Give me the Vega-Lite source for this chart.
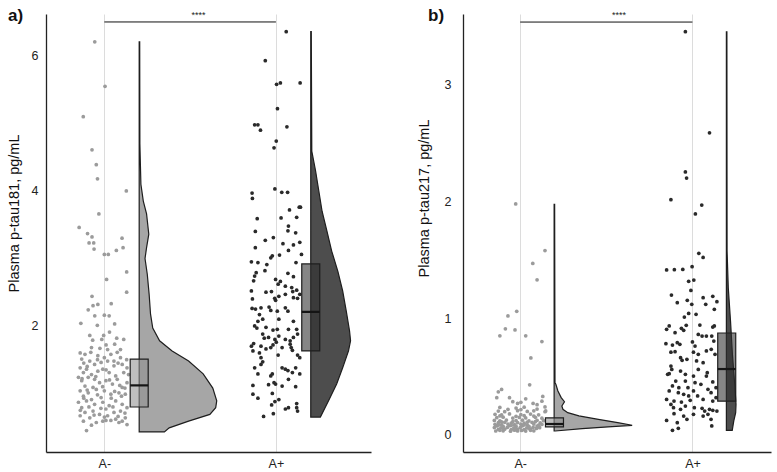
{
"$schema": "https://vega.github.io/schema/vega-lite/v6.json",
"padding": {"left": 6, "top": 6, "right": 4, "bottom": 2},
"config": {"font": "Liberation Sans", "view": {"stroke": null},
  "axisX": {"grid": true, "gridColor": "#dcdcdc", "ticks": false, "domainColor": "#222", "domainWidth": 1.3, "labelFontSize": 12.5, "labelColor": "#222", "labelPadding": 5},
  "axisY": {"grid": false, "ticks": false, "domainColor": "#222", "domainWidth": 1.3, "labelFontSize": 12.5, "labelColor": "#222", "titleFontSize": 14.5, "titleFontWeight": "normal", "titleColor": "#111", "format": "d"}
},
"spacing": 45,
"datasets": {
"pts": [
{"p":"a","g":"A-","x":0.944,"y":6.21},{"p":"a","g":"A-","x":1.004,"y":5.55},{"p":"a","g":"A-","x":0.877,"y":5.10},{"p":"a","g":"A-","x":0.928,"y":4.61},{"p":"a","g":"A-","x":0.953,"y":4.39},{"p":"a","g":"A-","x":0.960,"y":4.18},{"p":"a","g":"A-","x":1.128,"y":4.00},{"p":"a","g":"A-","x":0.968,"y":3.66},{"p":"a","g":"A-","x":0.853,"y":3.46},{"p":"a","g":"A-","x":0.902,"y":3.37},{"p":"a","g":"A-","x":0.928,"y":3.32},{"p":"a","g":"A-","x":0.911,"y":3.23},{"p":"a","g":"A-","x":0.938,"y":3.23},{"p":"a","g":"A-","x":0.940,"y":3.14},{"p":"a","g":"A-","x":1.103,"y":3.30},{"p":"a","g":"A-","x":1.109,"y":3.16},{"p":"a","g":"A-","x":1.070,"y":3.12},{"p":"a","g":"A-","x":1.000,"y":3.06},{"p":"a","g":"A-","x":1.023,"y":3.06},{"p":"a","g":"A-","x":1.130,"y":2.80},{"p":"a","g":"A-","x":1.013,"y":2.69},{"p":"a","g":"A-","x":1.130,"y":2.50},{"p":"a","g":"A-","x":0.928,"y":2.44},{"p":"a","g":"A-","x":0.962,"y":2.32},{"p":"a","g":"A-","x":0.934,"y":2.30},{"p":"a","g":"A-","x":0.906,"y":2.24},{"p":"a","g":"A-","x":1.040,"y":2.33},{"p":"a","g":"A-","x":1.000,"y":2.16},{"p":"a","g":"A-","x":1.028,"y":2.15},{"p":"a","g":"A-","x":0.944,"y":2.15},{"p":"a","g":"A-","x":0.863,"y":2.04},{"p":"a","g":"A-","x":0.959,"y":2.01},{"p":"a","g":"A-","x":1.060,"y":2.03},{"p":"a","g":"A-","x":0.915,"y":1.86},{"p":"a","g":"A-","x":0.996,"y":1.86},{"p":"a","g":"A-","x":1.030,"y":1.91},{"p":"a","g":"A-","x":0.932,"y":1.79},{"p":"a","g":"A-","x":0.985,"y":1.80},{"p":"a","g":"A-","x":1.072,"y":1.82},{"p":"a","g":"A-","x":1.113,"y":1.80},{"p":"a","g":"A-","x":1.010,"y":1.72},{"p":"a","g":"A-","x":0.974,"y":1.67},{"p":"a","g":"A-","x":1.019,"y":1.65},{"p":"a","g":"A-","x":1.060,"y":1.73},{"p":"a","g":"A-","x":0.925,"y":1.68},{"p":"a","g":"A-","x":1.094,"y":1.65},
{"p":"a","g":"A-","x":0.859,"y":1.60},{"p":"a","g":"A-","x":0.887,"y":1.58},{"p":"a","g":"A-","x":0.921,"y":1.61},{"p":"a","g":"A-","x":0.962,"y":1.56},{"p":"a","g":"A-","x":1.000,"y":1.53},{"p":"a","g":"A-","x":1.038,"y":1.58},{"p":"a","g":"A-","x":1.075,"y":1.61},{"p":"a","g":"A-","x":1.094,"y":1.53},{"p":"a","g":"A-","x":1.056,"y":1.48},
{"p":"a","g":"A-","x":0.868,"y":1.51},{"p":"a","g":"A-","x":0.915,"y":1.48},{"p":"a","g":"A-","x":0.943,"y":1.43},{"p":"a","g":"A-","x":0.981,"y":1.46},{"p":"a","g":"A-","x":1.019,"y":1.48},{"p":"a","g":"A-","x":1.056,"y":1.41},{"p":"a","g":"A-","x":1.104,"y":1.43},{"p":"a","g":"A-","x":1.132,"y":1.38},{"p":"a","g":"A-","x":0.859,"y":1.38},{"p":"a","g":"A-","x":0.896,"y":1.36},
{"p":"a","g":"A-","x":0.878,"y":1.31},{"p":"a","g":"A-","x":0.925,"y":1.28},{"p":"a","g":"A-","x":0.962,"y":1.33},{"p":"a","g":"A-","x":0.991,"y":1.36},{"p":"a","g":"A-","x":1.028,"y":1.31},{"p":"a","g":"A-","x":1.066,"y":1.26},{"p":"a","g":"A-","x":1.113,"y":1.31},{"p":"a","g":"A-","x":1.141,"y":1.28},{"p":"a","g":"A-","x":0.849,"y":1.24},{"p":"a","g":"A-","x":0.906,"y":1.24},
{"p":"a","g":"A-","x":0.868,"y":1.19},{"p":"a","g":"A-","x":0.943,"y":1.21},{"p":"a","g":"A-","x":0.972,"y":1.16},{"p":"a","g":"A-","x":1.009,"y":1.19},{"p":"a","g":"A-","x":1.047,"y":1.14},{"p":"a","g":"A-","x":1.075,"y":1.21},{"p":"a","g":"A-","x":1.104,"y":1.09},{"p":"a","g":"A-","x":1.132,"y":1.16},{"p":"a","g":"A-","x":0.887,"y":1.11},{"p":"a","g":"A-","x":0.934,"y":1.09},
{"p":"a","g":"A-","x":0.859,"y":1.04},{"p":"a","g":"A-","x":0.906,"y":1.01},{"p":"a","g":"A-","x":0.953,"y":1.06},{"p":"a","g":"A-","x":1.000,"y":1.04},{"p":"a","g":"A-","x":1.038,"y":0.99},{"p":"a","g":"A-","x":1.085,"y":1.01},{"p":"a","g":"A-","x":1.122,"y":0.99},{"p":"a","g":"A-","x":0.878,"y":0.96},{"p":"a","g":"A-","x":0.981,"y":0.94},{"p":"a","g":"A-","x":0.925,"y":0.91},
{"p":"a","g":"A-","x":0.849,"y":0.87},{"p":"a","g":"A-","x":0.896,"y":0.89},{"p":"a","g":"A-","x":0.943,"y":0.84},{"p":"a","g":"A-","x":0.991,"y":0.87},{"p":"a","g":"A-","x":1.028,"y":0.82},{"p":"a","g":"A-","x":1.066,"y":0.89},{"p":"a","g":"A-","x":1.104,"y":0.84},{"p":"a","g":"A-","x":1.132,"y":0.79},{"p":"a","g":"A-","x":0.868,"y":0.79},{"p":"a","g":"A-","x":1.009,"y":0.77},
{"p":"a","g":"A-","x":0.887,"y":0.72},{"p":"a","g":"A-","x":0.934,"y":0.74},{"p":"a","g":"A-","x":0.972,"y":0.69},{"p":"a","g":"A-","x":1.019,"y":0.67},{"p":"a","g":"A-","x":1.056,"y":0.72},{"p":"a","g":"A-","x":1.094,"y":0.74},{"p":"a","g":"A-","x":1.122,"y":0.64},{"p":"a","g":"A-","x":0.859,"y":0.67},{"p":"a","g":"A-","x":0.915,"y":0.64},{"p":"a","g":"A-","x":1.066,"y":0.62},
{"p":"a","g":"A-","x":0.878,"y":0.59},{"p":"a","g":"A-","x":0.953,"y":0.57},{"p":"a","g":"A-","x":0.991,"y":0.59},{"p":"a","g":"A-","x":1.038,"y":0.60},{"p":"a","g":"A-","x":1.085,"y":0.57},{"p":"a","g":"A-","x":1.132,"y":0.54},{"p":"a","g":"A-","x":0.925,"y":0.53},{"p":"a","g":"A-","x":1.009,"y":0.60},{"p":"a","g":"A-","x":1.104,"y":0.59},{"p":"a","g":"A-","x":0.896,"y":0.45},
{"p":"a","g":"A-","x":0.870,"y":1.22},{"p":"a","g":"A-","x":0.950,"y":1.25},{"p":"a","g":"A-","x":1.030,"y":1.20},{"p":"a","g":"A-","x":1.090,"y":1.12},{"p":"a","g":"A-","x":0.900,"y":1.05},{"p":"a","g":"A-","x":0.990,"y":1.10},{"p":"a","g":"A-","x":1.060,"y":1.03},{"p":"a","g":"A-","x":1.120,"y":1.08},{"p":"a","g":"A-","x":0.880,"y":0.93},{"p":"a","g":"A-","x":0.960,"y":0.98},{"p":"a","g":"A-","x":1.040,"y":0.93},{"p":"a","g":"A-","x":1.100,"y":0.96},{"p":"a","g":"A-","x":0.910,"y":0.80},{"p":"a","g":"A-","x":0.980,"y":0.78},{"p":"a","g":"A-","x":1.050,"y":0.80},{"p":"a","g":"A-","x":1.120,"y":0.71},{"p":"a","g":"A-","x":0.860,"y":0.75},{"p":"a","g":"A-","x":0.940,"y":0.68},{"p":"a","g":"A-","x":1.000,"y":0.65},{"p":"a","g":"A-","x":1.080,"y":0.66},{"p":"a","g":"A-","x":0.900,"y":1.40},{"p":"a","g":"A-","x":1.010,"y":1.35},{"p":"a","g":"A-","x":1.080,"y":1.45},{"p":"a","g":"A-","x":0.880,"y":1.45},{"p":"a","g":"A-","x":0.960,"y":1.50},{"p":"a","g":"A-","x":1.130,"y":1.50},
{"p":"a","g":"A+","x":2.060,"y":6.36},{"p":"a","g":"A+","x":1.938,"y":5.93},{"p":"a","g":"A+","x":2.004,"y":5.58},{"p":"a","g":"A+","x":2.026,"y":5.60},{"p":"a","g":"A+","x":2.141,"y":5.60},{"p":"a","g":"A+","x":2.009,"y":5.22},{"p":"a","g":"A+","x":1.876,"y":4.98},{"p":"a","g":"A+","x":1.895,"y":4.98},{"p":"a","g":"A+","x":1.910,"y":4.90},{"p":"a","g":"A+","x":2.064,"y":4.95},{"p":"a","g":"A+","x":2.002,"y":4.74},{"p":"a","g":"A+","x":1.989,"y":4.64},{"p":"a","g":"A+","x":1.994,"y":4.03},{"p":"a","g":"A+","x":1.861,"y":3.97},{"p":"a","g":"A+","x":1.863,"y":3.89},{"p":"a","g":"A+","x":2.034,"y":3.98},{"p":"a","g":"A+","x":2.068,"y":3.98},{"p":"a","g":"A+","x":2.079,"y":3.72},{"p":"a","g":"A+","x":2.136,"y":3.76},{"p":"a","g":"A+","x":2.143,"y":3.76},{"p":"a","g":"A+","x":1.891,"y":3.59},{"p":"a","g":"A+","x":2.030,"y":3.60},{"p":"a","g":"A+","x":2.121,"y":3.61},
{"p":"a","g":"A+","x":2.073,"y":3.48},{"p":"a","g":"A+","x":2.070,"y":3.41},{"p":"a","g":"A+","x":2.115,"y":3.38},{"p":"a","g":"A+","x":1.880,"y":3.40},{"p":"a","g":"A+","x":1.938,"y":3.27},{"p":"a","g":"A+","x":1.985,"y":3.31},{"p":"a","g":"A+","x":2.041,"y":3.22},{"p":"a","g":"A+","x":2.102,"y":3.20},{"p":"a","g":"A+","x":2.139,"y":3.24},{"p":"a","g":"A+","x":2.073,"y":3.12},{"p":"a","g":"A+","x":1.880,"y":3.16},{"p":"a","g":"A+","x":1.979,"y":3.04},{"p":"a","g":"A+","x":1.970,"y":3.01},{"p":"a","g":"A+","x":2.021,"y":3.05},{"p":"a","g":"A+","x":2.149,"y":3.06},{"p":"a","g":"A+","x":1.857,"y":2.95},{"p":"a","g":"A+","x":1.895,"y":2.94},{"p":"a","g":"A+","x":1.947,"y":2.91},{"p":"a","g":"A+","x":1.936,"y":2.82},{"p":"a","g":"A+","x":2.117,"y":2.94},{"p":"a","g":"A+","x":1.885,"y":2.79},{"p":"a","g":"A+","x":1.876,"y":2.74},{"p":"a","g":"A+","x":1.870,"y":2.67},{"p":"a","g":"A+","x":2.070,"y":2.78},{"p":"a","g":"A+","x":1.998,"y":2.69},{"p":"a","g":"A+","x":2.026,"y":2.66},{"p":"a","g":"A+","x":2.102,"y":2.73},{"p":"a","g":"A+","x":2.013,"y":2.62},{"p":"a","g":"A+","x":2.055,"y":2.59},{"p":"a","g":"A+","x":2.092,"y":2.57},{"p":"a","g":"A+","x":2.098,"y":2.51},{"p":"a","g":"A+","x":2.121,"y":2.53},{"p":"a","g":"A+","x":2.139,"y":2.47},{"p":"a","g":"A+","x":1.857,"y":2.52},{"p":"a","g":"A+","x":1.942,"y":2.50},{"p":"a","g":"A+","x":1.974,"y":2.51},{"p":"a","g":"A+","x":1.993,"y":2.41},{"p":"a","g":"A+","x":2.017,"y":2.44},{"p":"a","g":"A+","x":2.055,"y":2.47},{"p":"a","g":"A+","x":2.102,"y":2.42},{"p":"a","g":"A+","x":2.126,"y":2.41},{"p":"a","g":"A+","x":1.863,"y":2.40},{"p":"a","g":"A+","x":1.998,"y":2.38},{"p":"a","g":"A+","x":1.861,"y":2.26},{"p":"a","g":"A+","x":1.881,"y":2.25},{"p":"a","g":"A+","x":1.913,"y":2.27},{"p":"a","g":"A+","x":1.960,"y":2.28},{"p":"a","g":"A+","x":1.970,"y":2.23},{"p":"a","g":"A+","x":2.008,"y":2.22},{"p":"a","g":"A+","x":2.055,"y":2.27},{"p":"a","g":"A+","x":2.070,"y":2.22},{"p":"a","g":"A+","x":1.904,"y":2.17},{"p":"a","g":"A+","x":1.923,"y":2.10},{"p":"a","g":"A+","x":1.895,"y":2.07},{"p":"a","g":"A+","x":1.876,"y":2.00},{"p":"a","g":"A+","x":1.889,"y":1.97},{"p":"a","g":"A+","x":2.017,"y":2.10},{"p":"a","g":"A+","x":2.102,"y":2.07},{"p":"a","g":"A+","x":2.121,"y":1.95},{"p":"a","g":"A+","x":1.942,"y":1.98},{"p":"a","g":"A+","x":1.983,"y":1.94},{"p":"a","g":"A+","x":2.008,"y":1.95},{"p":"a","g":"A+","x":2.073,"y":1.95},{"p":"a","g":"A+","x":1.923,"y":1.88},{"p":"a","g":"A+","x":1.932,"y":1.82},{"p":"a","g":"A+","x":1.957,"y":1.83},{"p":"a","g":"A+","x":1.994,"y":1.80},{"p":"a","g":"A+","x":2.002,"y":1.76},{"p":"a","g":"A+","x":2.017,"y":1.85},{"p":"a","g":"A+","x":2.055,"y":1.80},{"p":"a","g":"A+","x":2.083,"y":1.78},{"p":"a","g":"A+","x":2.102,"y":1.83},{"p":"a","g":"A+","x":2.126,"y":1.88},{"p":"a","g":"A+","x":1.857,"y":1.70},{"p":"a","g":"A+","x":1.870,"y":1.74},{"p":"a","g":"A+","x":1.913,"y":1.70},{"p":"a","g":"A+","x":1.970,"y":1.68},{"p":"a","g":"A+","x":1.983,"y":1.72},{"p":"a","g":"A+","x":2.036,"y":1.68},{"p":"a","g":"A+","x":2.089,"y":1.68},{"p":"a","g":"A+","x":2.083,"y":1.73},{"p":"a","g":"A+","x":1.866,"y":1.63},{"p":"a","g":"A+","x":1.904,"y":1.60},{"p":"a","g":"A+","x":1.942,"y":1.66},{"p":"a","g":"A+","x":2.013,"y":1.57},{"p":"a","g":"A+","x":2.096,"y":1.64},{"p":"a","g":"A+","x":1.913,"y":1.53},{"p":"a","g":"A+","x":1.923,"y":1.47},{"p":"a","g":"A+","x":1.913,"y":1.43},{"p":"a","g":"A+","x":2.126,"y":1.57},{"p":"a","g":"A+","x":2.139,"y":1.53},{"p":"a","g":"A+","x":1.876,"y":1.38},{"p":"a","g":"A+","x":1.895,"y":1.29},{"p":"a","g":"A+","x":1.979,"y":1.29},{"p":"a","g":"A+","x":2.036,"y":1.38},{"p":"a","g":"A+","x":2.055,"y":1.36},{"p":"a","g":"A+","x":2.070,"y":1.34},{"p":"a","g":"A+","x":2.115,"y":1.38},{"p":"a","g":"A+","x":2.139,"y":1.29},{"p":"a","g":"A+","x":2.096,"y":1.31},{"p":"a","g":"A+","x":1.970,"y":1.26},{"p":"a","g":"A+","x":1.989,"y":1.16},{"p":"a","g":"A+","x":1.998,"y":1.14},{"p":"a","g":"A+","x":1.957,"y":1.13},{"p":"a","g":"A+","x":2.073,"y":1.21},{"p":"a","g":"A+","x":2.036,"y":1.11},{"p":"a","g":"A+","x":2.115,"y":1.10},{"p":"a","g":"A+","x":1.866,"y":1.12},{"p":"a","g":"A+","x":1.866,"y":0.99},{"p":"a","g":"A+","x":1.895,"y":0.93},{"p":"a","g":"A+","x":1.979,"y":1.00},{"p":"a","g":"A+","x":1.994,"y":0.88},{"p":"a","g":"A+","x":2.017,"y":0.91},{"p":"a","g":"A+","x":1.975,"y":0.83},{"p":"a","g":"A+","x":2.055,"y":0.77},{"p":"a","g":"A+","x":2.073,"y":0.79},{"p":"a","g":"A+","x":2.121,"y":0.85},{"p":"a","g":"A+","x":2.121,"y":0.79},{"p":"a","g":"A+","x":2.126,"y":0.74},{"p":"a","g":"A+","x":1.928,"y":0.66},{"p":"a","g":"A+","x":1.985,"y":0.70},
{"p":"b","g":"A-","x":0.974,"y":1.98},{"p":"b","g":"A-","x":1.144,"y":1.58},{"p":"b","g":"A-","x":1.073,"y":1.47},{"p":"b","g":"A-","x":1.098,"y":1.33},{"p":"b","g":"A-","x":0.980,"y":1.06},{"p":"b","g":"A-","x":0.929,"y":1.02},{"p":"b","g":"A-","x":0.914,"y":0.91},{"p":"b","g":"A-","x":0.970,"y":0.90},{"p":"b","g":"A-","x":0.882,"y":0.85},{"p":"b","g":"A-","x":1.032,"y":0.85},{"p":"b","g":"A-","x":1.126,"y":0.80},{"p":"b","g":"A-","x":1.062,"y":0.66},{"p":"b","g":"A-","x":1.055,"y":0.43},{"p":"b","g":"A-","x":0.892,"y":0.39},{"p":"b","g":"A-","x":0.873,"y":0.37},{"p":"b","g":"A-","x":0.864,"y":0.32},{"p":"b","g":"A-","x":0.938,"y":0.32},{"p":"b","g":"A-","x":0.957,"y":0.285},{"p":"b","g":"A-","x":1.032,"y":0.31},{"p":"b","g":"A-","x":1.131,"y":0.33},{"p":"b","g":"A-","x":1.126,"y":0.29},{"p":"b","g":"A-","x":0.985,"y":0.27},{"p":"b","g":"A-","x":1.075,"y":0.27},{"p":"b","g":"A-","x":1.098,"y":0.26},{"p":"b","g":"A-","x":1.004,"y":0.28},{"p":"b","g":"A-","x":1.144,"y":0.24},{"p":"b","g":"A-","x":1.148,"y":0.206},
{"p":"b","g":"A-","x":0.882,"y":0.236},{"p":"b","g":"A-","x":0.976,"y":0.231},{"p":"b","g":"A-","x":1.023,"y":0.238},
{"p":"b","g":"A-","x":0.873,"y":0.205},{"p":"b","g":"A-","x":0.910,"y":0.2},{"p":"b","g":"A-","x":0.985,"y":0.208},{"p":"b","g":"A-","x":1.041,"y":0.202},{"p":"b","g":"A-","x":1.079,"y":0.207},{"p":"b","g":"A-","x":1.144,"y":0.199},
{"p":"b","g":"A-","x":0.854,"y":0.177},{"p":"b","g":"A-","x":0.892,"y":0.172},{"p":"b","g":"A-","x":0.938,"y":0.18},{"p":"b","g":"A-","x":1.004,"y":0.174},{"p":"b","g":"A-","x":1.060,"y":0.179},{"p":"b","g":"A-","x":1.107,"y":0.173},
{"p":"b","g":"A-","x":0.864,"y":0.148},{"p":"b","g":"A-","x":0.901,"y":0.152},{"p":"b","g":"A-","x":0.957,"y":0.145},{"p":"b","g":"A-","x":0.995,"y":0.15},{"p":"b","g":"A-","x":1.032,"y":0.146},{"p":"b","g":"A-","x":1.088,"y":0.151},{"p":"b","g":"A-","x":1.126,"y":0.144},
{"p":"b","g":"A-","x":0.850,"y":0.125},{"p":"b","g":"A-","x":0.882,"y":0.121},{"p":"b","g":"A-","x":0.920,"y":0.128},{"p":"b","g":"A-","x":0.976,"y":0.123},{"p":"b","g":"A-","x":1.013,"y":0.127},{"p":"b","g":"A-","x":1.051,"y":0.12},{"p":"b","g":"A-","x":1.098,"y":0.126},{"p":"b","g":"A-","x":1.135,"y":0.122},
{"p":"b","g":"A-","x":0.873,"y":0.105},{"p":"b","g":"A-","x":0.910,"y":0.108},{"p":"b","g":"A-","x":0.948,"y":0.102},{"p":"b","g":"A-","x":0.985,"y":0.106},{"p":"b","g":"A-","x":1.023,"y":0.101},{"p":"b","g":"A-","x":1.069,"y":0.107},{"p":"b","g":"A-","x":1.116,"y":0.103},
{"p":"b","g":"A-","x":0.854,"y":0.091},{"p":"b","g":"A-","x":0.892,"y":0.088},{"p":"b","g":"A-","x":0.929,"y":0.093},{"p":"b","g":"A-","x":0.967,"y":0.089},{"p":"b","g":"A-","x":1.004,"y":0.092},{"p":"b","g":"A-","x":1.041,"y":0.087},{"p":"b","g":"A-","x":1.079,"y":0.093},{"p":"b","g":"A-","x":1.126,"y":0.09},
{"p":"b","g":"A-","x":0.864,"y":0.077},{"p":"b","g":"A-","x":0.901,"y":0.074},{"p":"b","g":"A-","x":0.938,"y":0.079},{"p":"b","g":"A-","x":0.976,"y":0.075},{"p":"b","g":"A-","x":1.013,"y":0.078},{"p":"b","g":"A-","x":1.051,"y":0.073},{"p":"b","g":"A-","x":1.098,"y":0.076},
{"p":"b","g":"A-","x":0.850,"y":0.063},{"p":"b","g":"A-","x":0.888,"y":0.06},{"p":"b","g":"A-","x":0.925,"y":0.065},{"p":"b","g":"A-","x":0.963,"y":0.061},{"p":"b","g":"A-","x":1.000,"y":0.064},{"p":"b","g":"A-","x":1.038,"y":0.06},{"p":"b","g":"A-","x":1.075,"y":0.066},{"p":"b","g":"A-","x":1.113,"y":0.062},
{"p":"b","g":"A-","x":0.873,"y":0.048},{"p":"b","g":"A-","x":0.910,"y":0.05},{"p":"b","g":"A-","x":0.948,"y":0.046},{"p":"b","g":"A-","x":0.985,"y":0.049},{"p":"b","g":"A-","x":1.023,"y":0.045},{"p":"b","g":"A-","x":1.060,"y":0.05},
{"p":"b","g":"A-","x":0.858,"y":0.034},{"p":"b","g":"A-","x":0.901,"y":0.036},{"p":"b","g":"A-","x":0.944,"y":0.032},{"p":"b","g":"A-","x":0.985,"y":0.035},{"p":"b","g":"A-","x":1.032,"y":0.033},{"p":"b","g":"A-","x":1.079,"y":0.036},
{"p":"b","g":"A-","x":0.929,"y":0.22},{"p":"b","g":"A-","x":1.004,"y":0.218},{"p":"b","g":"A-","x":1.098,"y":0.222},{"p":"b","g":"A-","x":0.882,"y":0.163},{"p":"b","g":"A-","x":0.976,"y":0.16},{"p":"b","g":"A-","x":1.023,"y":0.165},{"p":"b","g":"A-","x":1.079,"y":0.162},{"p":"b","g":"A-","x":0.892,"y":0.113},{"p":"b","g":"A-","x":0.957,"y":0.115},{"p":"b","g":"A-","x":1.041,"y":0.111},{"p":"b","g":"A-","x":1.088,"y":0.114},{"p":"b","g":"A-","x":0.873,"y":0.085},{"p":"b","g":"A-","x":0.948,"y":0.083},{"p":"b","g":"A-","x":1.023,"y":0.086},{"p":"b","g":"A-","x":1.107,"y":0.084},{"p":"b","g":"A-","x":0.901,"y":0.057},{"p":"b","g":"A-","x":0.976,"y":0.055},{"p":"b","g":"A-","x":1.051,"y":0.058},{"p":"b","g":"A-","x":1.094,"y":0.056},{"p":"b","g":"A-","x":0.882,"y":0.04},{"p":"b","g":"A-","x":0.967,"y":0.041},{"p":"b","g":"A-","x":1.008,"y":0.039},{"p":"b","g":"A-","x":1.060,"y":0.04},
{"p":"b","g":"A+","x":1.959,"y":3.456},{"p":"b","g":"A+","x":2.099,"y":2.59},{"p":"b","g":"A+","x":1.959,"y":2.254},{"p":"b","g":"A+","x":1.966,"y":2.202},{"p":"b","g":"A+","x":1.875,"y":2.017},{"p":"b","g":"A+","x":2.054,"y":1.97},{"p":"b","g":"A+","x":2.017,"y":1.894},{"p":"b","g":"A+","x":2.037,"y":1.557},{"p":"b","g":"A+","x":2.062,"y":1.522},{"p":"b","g":"A+","x":1.850,"y":1.414},{"p":"b","g":"A+","x":1.895,"y":1.417},{"p":"b","g":"A+","x":1.944,"y":1.419},{"p":"b","g":"A+","x":1.998,"y":1.442},{"p":"b","g":"A+","x":1.978,"y":1.317},{"p":"b","g":"A+","x":2.008,"y":1.328},{"p":"b","g":"A+","x":1.991,"y":1.239},{"p":"b","g":"A+","x":1.878,"y":1.199},{"p":"b","g":"A+","x":1.912,"y":1.134},{"p":"b","g":"A+","x":1.970,"y":1.154},{"p":"b","g":"A+","x":1.996,"y":1.12},{"p":"b","g":"A+","x":2.062,"y":1.177},{"p":"b","g":"A+","x":2.118,"y":1.188},{"p":"b","g":"A+","x":2.142,"y":1.142},{"p":"b","g":"A+","x":2.077,"y":1.12},{"p":"b","g":"A+","x":2.127,"y":1.077},{"p":"b","g":"A+","x":1.978,"y":1.042},{"p":"b","g":"A+","x":1.953,"y":1.011},{"p":"b","g":"A+","x":2.021,"y":1.034},{"p":"b","g":"A+","x":1.865,"y":0.934},{"p":"b","g":"A+","x":1.850,"y":0.905},{"p":"b","g":"A+","x":1.936,"y":0.914},{"p":"b","g":"A+","x":1.949,"y":0.897},{"p":"b","g":"A+","x":1.899,"y":0.877},{"p":"b","g":"A+","x":1.964,"y":0.94},{"p":"b","g":"A+","x":2.043,"y":0.942},{"p":"b","g":"A+","x":2.118,"y":0.925},{"p":"b","g":"A+","x":2.127,"y":0.934},{"p":"b","g":"A+","x":2.034,"y":0.862},{"p":"b","g":"A+","x":2.056,"y":0.848},{"p":"b","g":"A+","x":2.081,"y":0.848},{"p":"b","g":"A+","x":1.846,"y":0.782},{"p":"b","g":"A+","x":1.884,"y":0.771},{"p":"b","g":"A+","x":1.912,"y":0.791},{"p":"b","g":"A+","x":1.927,"y":0.777},{"p":"b","g":"A+","x":2.000,"y":0.797},{"p":"b","g":"A+","x":2.015,"y":0.762},{"p":"b","g":"A+","x":2.112,"y":0.848},{"p":"b","g":"A+","x":2.124,"y":0.805},{"p":"b","g":"A+","x":1.875,"y":0.71},{"p":"b","g":"A+","x":1.899,"y":0.714},{"p":"b","g":"A+","x":2.006,"y":0.71},{"p":"b","g":"A+","x":2.034,"y":0.691},{"p":"b","g":"A+","x":2.081,"y":0.72},{"p":"b","g":"A+","x":2.109,"y":0.734},{"p":"b","g":"A+","x":2.131,"y":0.691},{"p":"b","g":"A+","x":1.931,"y":0.662},{"p":"b","g":"A+","x":1.940,"y":0.64},{"p":"b","g":"A+","x":1.968,"y":0.648},{"p":"b","g":"A+","x":2.024,"y":0.634},{"p":"b","g":"A+","x":2.062,"y":0.62},{"p":"b","g":"A+","x":1.875,"y":0.591},{"p":"b","g":"A+","x":1.880,"y":0.562},{"p":"b","g":"A+","x":1.931,"y":0.548},{"p":"b","g":"A+","x":2.034,"y":0.562},{"p":"b","g":"A+","x":2.086,"y":0.534},{"p":"b","g":"A+","x":1.856,"y":0.52},{"p":"b","g":"A+","x":1.865,"y":0.525},{"p":"b","g":"A+","x":1.959,"y":0.52},{"p":"b","g":"A+","x":2.006,"y":0.505},{"p":"b","g":"A+","x":2.081,"y":0.505},{"p":"b","g":"A+","x":1.903,"y":0.462},{"p":"b","g":"A+","x":1.959,"y":0.462},{"p":"b","g":"A+","x":2.015,"y":0.448},{"p":"b","g":"A+","x":2.049,"y":0.434},{"p":"b","g":"A+","x":2.118,"y":0.454},{"p":"b","g":"A+","x":1.884,"y":0.42},{"p":"b","g":"A+","x":1.921,"y":0.405},{"p":"b","g":"A+","x":1.974,"y":0.405},{"p":"b","g":"A+","x":2.006,"y":0.377},{"p":"b","g":"A+","x":2.090,"y":0.391},{"p":"b","g":"A+","x":2.137,"y":0.405},{"p":"b","g":"A+","x":1.865,"y":0.377},{"p":"b","g":"A+","x":1.918,"y":0.362},{"p":"b","g":"A+","x":1.949,"y":0.348},{"p":"b","g":"A+","x":1.978,"y":0.334},{"p":"b","g":"A+","x":2.030,"y":0.334},{"p":"b","g":"A+","x":2.108,"y":0.362},{"p":"b","g":"A+","x":1.850,"y":0.305},{"p":"b","g":"A+","x":1.893,"y":0.291},{"p":"b","g":"A+","x":1.875,"y":0.262},{"p":"b","g":"A+","x":1.936,"y":0.282},{"p":"b","g":"A+","x":1.987,"y":0.297},{"p":"b","g":"A+","x":2.062,"y":0.305},{"p":"b","g":"A+","x":2.118,"y":0.291},{"p":"b","g":"A+","x":2.137,"y":0.32},{"p":"b","g":"A+","x":1.890,"y":0.234},{"p":"b","g":"A+","x":1.931,"y":0.22},{"p":"b","g":"A+","x":1.959,"y":0.248},{"p":"b","g":"A+","x":2.011,"y":0.234},{"p":"b","g":"A+","x":2.056,"y":0.228},{"p":"b","g":"A+","x":2.071,"y":0.205},{"p":"b","g":"A+","x":2.099,"y":0.22},{"p":"b","g":"A+","x":2.118,"y":0.211},{"p":"b","g":"A+","x":2.142,"y":0.205},{"p":"b","g":"A+","x":1.893,"y":0.182},{"p":"b","g":"A+","x":1.949,"y":0.162},{"p":"b","g":"A+","x":2.006,"y":0.177},{"p":"b","g":"A+","x":2.062,"y":0.162},{"p":"b","g":"A+","x":2.090,"y":0.177},{"p":"b","g":"A+","x":2.108,"y":0.134},{"p":"b","g":"A+","x":1.850,"y":0.125},{"p":"b","g":"A+","x":1.912,"y":0.105},{"p":"b","g":"A+","x":1.968,"y":0.134},{"p":"b","g":"A+","x":2.112,"y":0.077},{"p":"b","g":"A+","x":1.884,"y":0.04},{"p":"b","g":"A+","x":1.918,"y":0.057}
],
"vio": [
{"p":"a","g":"A-","y":6.21,"xb":1.203,"xe":1.206},{"p":"a","g":"A-","y":4.7,"xb":1.203,"xe":1.207},{"p":"a","g":"A-","y":4.1,"xb":1.203,"xe":1.213},{"p":"a","g":"A-","y":3.85,"xb":1.203,"xe":1.227},{"p":"a","g":"A-","y":3.66,"xb":1.203,"xe":1.246},{"p":"a","g":"A-","y":3.36,"xb":1.203,"xe":1.259},{"p":"a","g":"A-","y":3.16,"xb":1.203,"xe":1.246},{"p":"a","g":"A-","y":3.0,"xb":1.203,"xe":1.237},{"p":"a","g":"A-","y":2.77,"xb":1.203,"xe":1.25},{"p":"a","g":"A-","y":2.47,"xb":1.203,"xe":1.261},{"p":"a","g":"A-","y":2.18,"xb":1.203,"xe":1.269},{"p":"a","g":"A-","y":1.97,"xb":1.203,"xe":1.282},{"p":"a","g":"A-","y":1.78,"xb":1.203,"xe":1.322},{"p":"a","g":"A-","y":1.63,"xb":1.203,"xe":1.395},{"p":"a","g":"A-","y":1.48,"xb":1.203,"xe":1.491},{"p":"a","g":"A-","y":1.29,"xb":1.203,"xe":1.576},{"p":"a","g":"A-","y":1.08,"xb":1.203,"xe":1.632},{"p":"a","g":"A-","y":0.89,"xb":1.203,"xe":1.655},{"p":"a","g":"A-","y":0.79,"xb":1.203,"xe":1.649},{"p":"a","g":"A-","y":0.69,"xb":1.203,"xe":1.615},{"p":"a","g":"A-","y":0.59,"xb":1.203,"xe":1.491},{"p":"a","g":"A-","y":0.49,"xb":1.203,"xe":1.378},{"p":"a","g":"A-","y":0.43,"xb":1.203,"xe":1.35},
{"p":"a","g":"A+","y":6.36,"xb":2.203,"xe":2.206},{"p":"a","g":"A+","y":4.59,"xb":2.203,"xe":2.209},{"p":"a","g":"A+","y":4.3,"xb":2.203,"xe":2.231},{"p":"a","g":"A+","y":4.0,"xb":2.203,"xe":2.25},{"p":"a","g":"A+","y":3.7,"xb":2.203,"xe":2.269},{"p":"a","g":"A+","y":3.41,"xb":2.203,"xe":2.297},{"p":"a","g":"A+","y":3.11,"xb":2.203,"xe":2.325},{"p":"a","g":"A+","y":2.81,"xb":2.203,"xe":2.361},{"p":"a","g":"A+","y":2.52,"xb":2.203,"xe":2.389},{"p":"a","g":"A+","y":2.22,"xb":2.203,"xe":2.41},{"p":"a","g":"A+","y":1.93,"xb":2.203,"xe":2.429},{"p":"a","g":"A+","y":1.78,"xb":2.203,"xe":2.435},{"p":"a","g":"A+","y":1.63,"xb":2.203,"xe":2.423},{"p":"a","g":"A+","y":1.38,"xb":2.203,"xe":2.389},{"p":"a","g":"A+","y":1.14,"xb":2.203,"xe":2.354},{"p":"a","g":"A+","y":0.89,"xb":2.203,"xe":2.306},{"p":"a","g":"A+","y":0.65,"xb":2.203,"xe":2.259},
{"p":"b","g":"A-","y":1.977,"xb":1.197,"xe":1.2},{"p":"b","g":"A-","y":0.448,"xb":1.197,"xe":1.202},{"p":"b","g":"A-","y":0.434,"xb":1.197,"xe":1.207},{"p":"b","g":"A-","y":0.377,"xb":1.197,"xe":1.219},{"p":"b","g":"A-","y":0.32,"xb":1.197,"xe":1.238},{"p":"b","g":"A-","y":0.285,"xb":1.197,"xe":1.257},{"p":"b","g":"A-","y":0.248,"xb":1.197,"xe":1.242},{"p":"b","g":"A-","y":0.22,"xb":1.197,"xe":1.248},{"p":"b","g":"A-","y":0.191,"xb":1.197,"xe":1.276},{"p":"b","g":"A-","y":0.163,"xb":1.197,"xe":1.341},{"p":"b","g":"A-","y":0.134,"xb":1.197,"xe":1.454},{"p":"b","g":"A-","y":0.106,"xb":1.197,"xe":1.566},{"p":"b","g":"A-","y":0.083,"xb":1.197,"xe":1.65},{"p":"b","g":"A-","y":0.069,"xb":1.197,"xe":1.51},{"p":"b","g":"A-","y":0.054,"xb":1.197,"xe":1.36},{"p":"b","g":"A-","y":0.034,"xb":1.197,"xe":1.203},
{"p":"b","g":"A+","y":3.456,"xb":2.197,"xe":2.2},{"p":"b","g":"A+","y":1.577,"xb":2.197,"xe":2.201},{"p":"b","g":"A+","y":1.262,"xb":2.197,"xe":2.208},{"p":"b","g":"A+","y":0.977,"xb":2.197,"xe":2.221},{"p":"b","g":"A+","y":0.691,"xb":2.197,"xe":2.232},{"p":"b","g":"A+","y":0.463,"xb":2.197,"xe":2.244},{"p":"b","g":"A+","y":0.263,"xb":2.197,"xe":2.253},{"p":"b","g":"A+","y":0.191,"xb":2.197,"xe":2.251},{"p":"b","g":"A+","y":0.12,"xb":2.197,"xe":2.24},{"p":"b","g":"A+","y":0.04,"xb":2.197,"xe":2.231}
],
"box": [
{"p":"a","g":"A-","xc":1.203,"q1":0.80,"med":1.12,"q3":1.51},
{"p":"a","g":"A+","xc":2.203,"q1":1.63,"med":2.21,"q3":2.92},
{"p":"b","g":"A-","xc":1.199,"q1":0.069,"med":0.094,"q3":0.146},
{"p":"b","g":"A+","xc":2.199,"q1":0.29,"med":0.565,"q3":0.874}
],
"sig": [
{"p":"a","x1":1,"x2":2,"y":6.504,"tx":1.548,"ty":6.61,"label":"****"},
{"p":"b","x1":1,"x2":2,"y":3.539,"tx":1.573,"ty":3.60,"label":"****"}
]
},
"hconcat": [
{
"width": 325, "height": 438,
"title": {"text": "a)", "anchor": "start", "frame": "group", "dx": -38, "offset": -14, "fontSize": 17, "fontWeight": "bold", "color": "#111"},
"layer": [
{"data": {"name": "pts"}, "transform": [{"filter": "datum.p == 'a'"}],
 "mark": {"type": "circle", "size": 14, "opacity": 1},
 "encoding": {
  "x": {"field": "x", "type": "quantitative", "scale": {"domain": [0.689, 2.525], "nice": false, "zero": false},
        "axis": {"values": [1, 2], "labelExpr": "datum.value == 1 ? 'A-' : 'A+'", "title": null}},
  "y": {"field": "y", "type": "quantitative", "scale": {"domain": [0.133, 6.622], "nice": false, "zero": false},
        "axis": {"values": [2, 4, 6], "title": "Plasma p-tau181, pg/mL", "labelPadding": 8, "titlePadding": 10, "titleY": 199}},
  "color": {"field": "g", "type": "nominal", "scale": {"domain": ["A-", "A+"], "range": ["#9b9b9b", "#2a2a2a"]}, "legend": null}
 }},
{"data": {"name": "vio"}, "transform": [{"filter": "datum.p == 'a'"}],
 "mark": {"type": "area", "orient": "horizontal", "stroke": "#1e1e1e", "strokeWidth": 1.2, "fillOpacity": 1},
 "encoding": {
  "y": {"field": "y", "type": "quantitative"},
  "x": {"field": "xb", "type": "quantitative"},
  "x2": {"field": "xe"},
  "fill": {"field": "g", "type": "nominal", "scale": {"domain": ["A-", "A+"], "range": ["#a6a6a6", "#4d4d4d"]}, "legend": null}
 }},
{"data": {"name": "box"}, "transform": [{"filter": "datum.p == 'a'"}],
 "mark": {"type": "bar", "width": 18, "stroke": "#1e1e1e", "strokeWidth": 1.2, "fillOpacity": 0.58},
 "encoding": {
  "x": {"field": "xc", "type": "quantitative"},
  "y": {"field": "q1", "type": "quantitative"},
  "y2": {"field": "q3"},
  "fill": {"condition": {"test": "datum.g == 'A-'", "value": "#919191"}, "value": "#2f2f2f"}
 }},
{"data": {"name": "box"}, "transform": [{"filter": "datum.p == 'a'"}],
 "mark": {"type": "tick", "orient": "horizontal", "size": 18, "thickness": 2.2, "color": "#151515", "opacity": 1},
 "encoding": {
  "x": {"field": "xc", "type": "quantitative"},
  "y": {"field": "med", "type": "quantitative"}
 }},
{"data": {"name": "sig"}, "transform": [{"filter": "datum.p == 'a'"}],
 "mark": {"type": "rule", "color": "#111", "strokeWidth": 1},
 "encoding": {
  "x": {"field": "x1", "type": "quantitative"},
  "x2": {"field": "x2"},
  "y": {"field": "y", "type": "quantitative"}
 }},
{"data": {"name": "sig"}, "transform": [{"filter": "datum.p == 'a'"}],
 "mark": {"type": "text", "fontSize": 9, "color": "#222", "baseline": "middle"},
 "encoding": {
  "x": {"field": "tx", "type": "quantitative"},
  "y": {"field": "ty", "type": "quantitative"},
  "text": {"field": "label"}
 }}
]
},
{
"width": 308, "height": 438,
"title": {"text": "b)", "anchor": "start", "frame": "group", "dx": -35, "offset": -14, "fontSize": 17, "fontWeight": "bold", "color": "#111"},
"layer": [
{"data": {"name": "pts"}, "transform": [{"filter": "datum.p == 'b'"}],
 "mark": {"type": "circle", "size": 14, "opacity": 1},
 "encoding": {
  "x": {"field": "x", "type": "quantitative", "scale": {"domain": [0.697, 2.427], "nice": false, "zero": false},
        "axis": {"values": [1, 2], "labelExpr": "datum.value == 1 ? 'A-' : 'A+'", "title": null}},
  "y": {"field": "y", "type": "quantitative", "scale": {"domain": [-0.146, 3.608], "nice": false, "zero": false},
        "axis": {"values": [0, 1, 2, 3], "title": "Plasma p-tau217, pg/mL", "labelPadding": 12, "titlePadding": 13, "titleY": 184}},
  "color": {"field": "g", "type": "nominal", "scale": {"domain": ["A-", "A+"], "range": ["#9b9b9b", "#2a2a2a"]}, "legend": null}
 }},
{"data": {"name": "vio"}, "transform": [{"filter": "datum.p == 'b'"}],
 "mark": {"type": "area", "orient": "horizontal", "stroke": "#1e1e1e", "strokeWidth": 1.2, "fillOpacity": 1},
 "encoding": {
  "y": {"field": "y", "type": "quantitative"},
  "x": {"field": "xb", "type": "quantitative"},
  "x2": {"field": "xe"},
  "fill": {"field": "g", "type": "nominal", "scale": {"domain": ["A-", "A+"], "range": ["#a6a6a6", "#4d4d4d"]}, "legend": null}
 }},
{"data": {"name": "box"}, "transform": [{"filter": "datum.p == 'b'"}],
 "mark": {"type": "bar", "width": 18, "stroke": "#1e1e1e", "strokeWidth": 1.2, "fillOpacity": 0.58},
 "encoding": {
  "x": {"field": "xc", "type": "quantitative"},
  "y": {"field": "q1", "type": "quantitative"},
  "y2": {"field": "q3"},
  "fill": {"condition": {"test": "datum.g == 'A-'", "value": "#919191"}, "value": "#2f2f2f"}
 }},
{"data": {"name": "box"}, "transform": [{"filter": "datum.p == 'b'"}],
 "mark": {"type": "tick", "orient": "horizontal", "size": 18, "thickness": 2.2, "color": "#151515", "opacity": 1},
 "encoding": {
  "x": {"field": "xc", "type": "quantitative"},
  "y": {"field": "med", "type": "quantitative"}
 }},
{"data": {"name": "sig"}, "transform": [{"filter": "datum.p == 'b'"}],
 "mark": {"type": "rule", "color": "#111", "strokeWidth": 1},
 "encoding": {
  "x": {"field": "x1", "type": "quantitative"},
  "x2": {"field": "x2"},
  "y": {"field": "y", "type": "quantitative"}
 }},
{"data": {"name": "sig"}, "transform": [{"filter": "datum.p == 'b'"}],
 "mark": {"type": "text", "fontSize": 9, "color": "#222", "baseline": "middle"},
 "encoding": {
  "x": {"field": "tx", "type": "quantitative"},
  "y": {"field": "ty", "type": "quantitative"},
  "text": {"field": "label"}
 }}
]
}
]
}
